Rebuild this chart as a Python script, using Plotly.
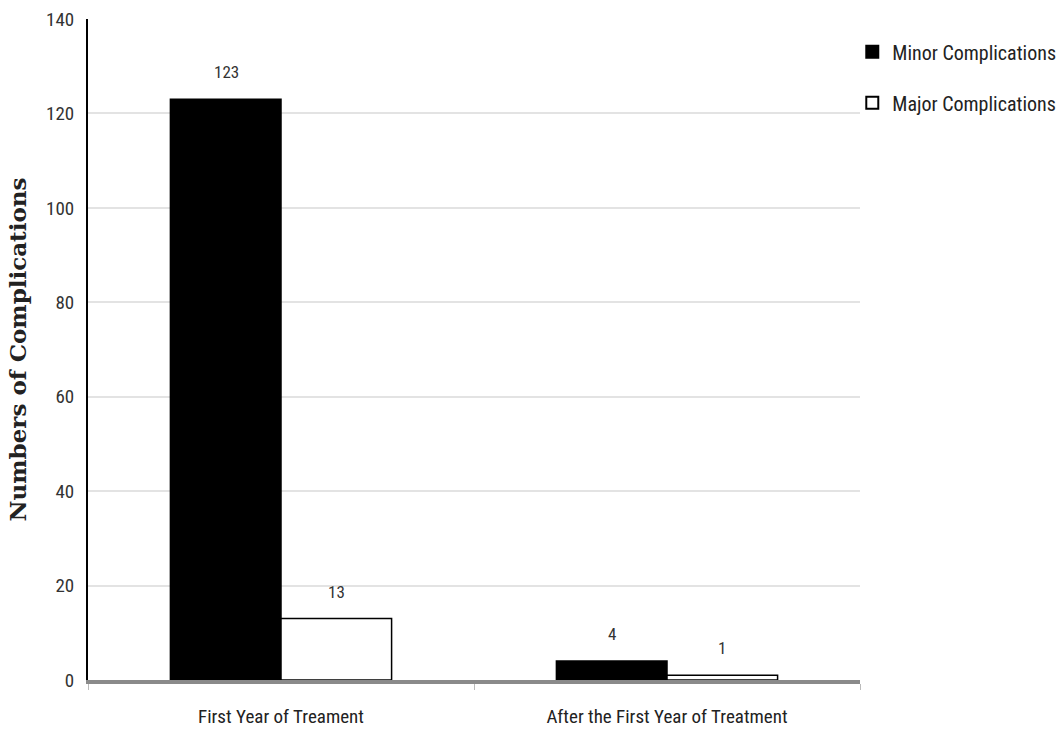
import plotly.graph_objects as go

# Complication counts by treatment period
periods = ["First Year of Treament", "After the First Year of Treatment"]
minor = [123, 4]
major = [13, 1]
series_names = ["Minor Complications", "Major Complications"]

y_ticks = [0, 20, 40, 60, 80, 100, 120, 140]

label_font = "Roboto Condensed, Liberation Sans Narrow, Arial Narrow, Roboto, sans-serif"

fig = go.Figure()
fig.add_trace(go.Bar(
    x=periods, y=minor, name=series_names[0], legendgroup="minor",
    marker=dict(color="black", line=dict(color="black", width=1.5)),
))
fig.add_trace(go.Bar(
    x=periods, y=major, name=series_names[1], legendgroup="major",
    marker=dict(color="white", line=dict(color="black", width=1.5)),
))

# value labels above each bar
offsets = [-55, 55]
for vals, dx in zip([minor, major], offsets):
    for cat, v in zip(periods, vals):
        fig.add_annotation(
            x=cat, y=v, text=str(v), showarrow=False,
            xshift=dx, yshift=15, yanchor="bottom",
            font=dict(family=label_font, size=17, color="#333333"),
        )

fig.update_layout(
    width=1058, height=732,
    margin=dict(l=88, r=198, t=19, b=52, autoexpand=False),
    paper_bgcolor="white", plot_bgcolor="white",
    barmode="group", bargap=0.427, bargroupgap=0,
    showlegend=True,
    legend=dict(
        x=0.99, y=0.98, xanchor="left", yanchor="top",
        font=dict(family=label_font, size=20, color="#222222"),
        itemsizing="constant", tracegroupgap=22,
        bgcolor="rgba(0,0,0,0)",
    ),
    font=dict(family=label_font, size=18, color="#333333"),
)

fig.update_xaxes(
    showline=True, linecolor="#8a8a8a", linewidth=4,
    showgrid=False, zeroline=False,
    tickson="boundaries", ticks="outside", ticklen=6, tickcolor="#bbbbbb", tickwidth=1,
    ticklabelstandoff=16,
    tickfont=dict(family=label_font, size=19, color="#222222"),
)

fig.update_yaxes(
    range=[0, 140], tickvals=y_ticks,
    showline=True, linecolor="black", linewidth=2,
    showgrid=True, gridcolor="#e3e3e3", gridwidth=2,
    zeroline=False, ticks="", ticklabelstandoff=8,
    tickfont=dict(family=label_font, size=19, color="#333333"),
    title=dict(
        text="<b>Numbers of Complications</b>",
        font=dict(family="DejaVu Serif, Liberation Serif, serif", size=23, color="#222222"),
        standoff=13,
    ),
)

fig.write_html("out.html")
